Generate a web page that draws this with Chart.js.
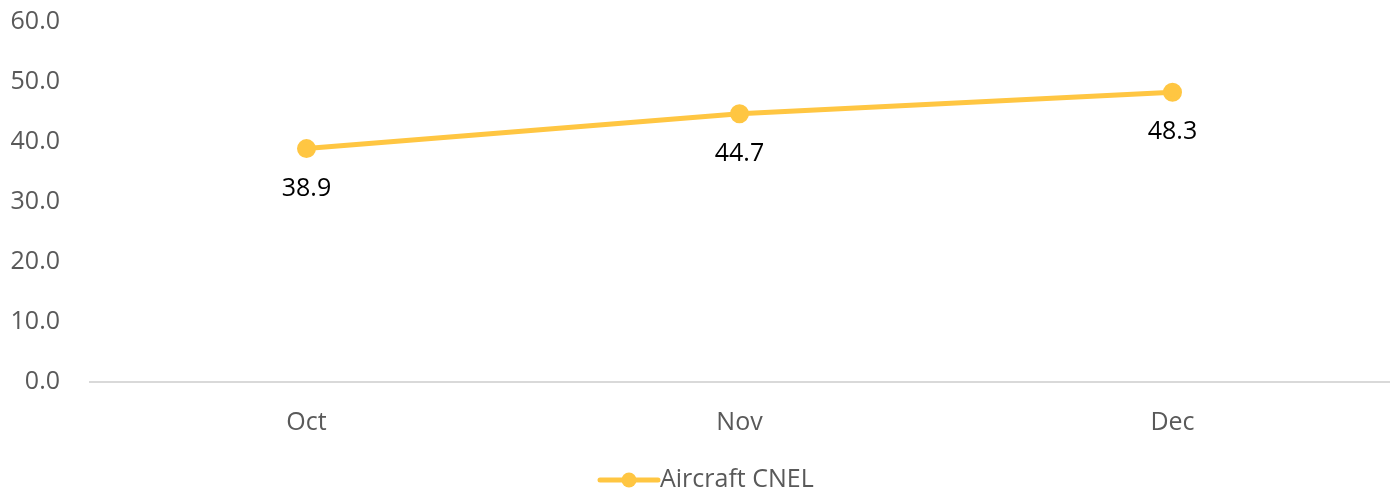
<!DOCTYPE html>
<html>
<head>
<meta charset="utf-8">
<script src="https://cdn.jsdelivr.net/npm/chart.js@4/dist/chart.umd.min.js"></script>
<style>
  html, body { margin: 0; padding: 0; background: #fff; }
  #wrap { width: 1390px; height: 493px; position: relative; }
</style>
</head>
<body>
<div id="wrap"><canvas id="myChart"></canvas></div>
<script>
const meses = ["Oct", "Nov", "Dec"];
const valoresCNEL = [38.9, 44.7, 48.3];
const nombreSerie = "Aircraft CNEL";
const yMin = 0, yMax = 60, yPaso = 10;

const colorLinea = "#FFC642";
const colorTexto = "#595959";
const fuente = "'Open Sans', 'Liberation Sans', sans-serif";
const tamFuente = 25;

// etiquetas debajo de cada punto
const etiquetasDatos = {
  id: "etiquetasDatos",
  afterDatasetsDraw(chart) {
    const ctx = chart.ctx;
    const meta = chart.getDatasetMeta(0);
    ctx.save();
    ctx.font = tamFuente + "px " + fuente;
    ctx.fillStyle = "#000";
    ctx.textAlign = "center";
    ctx.textBaseline = "middle";
    meta.data.forEach((pt, i) => {
      ctx.fillText(valoresCNEL[i].toFixed(1), pt.x, pt.y + 40);
    });
    ctx.restore();
  }
};

// leyenda abajo: linea con punto + texto
const leyenda = {
  id: "leyenda",
  afterDraw(chart) {
    const ctx = chart.ctx;
    const y = 480;
    const x0 = 600, x1 = 658;
    ctx.save();
    ctx.strokeStyle = colorLinea;
    ctx.lineWidth = 5;
    ctx.lineCap = "round";
    ctx.beginPath();
    ctx.moveTo(x0, y);
    ctx.lineTo(x1, y);
    ctx.stroke();
    ctx.fillStyle = colorLinea;
    ctx.beginPath();
    ctx.arc((x0 + x1) / 2, y, 7.5, 0, Math.PI * 2);
    ctx.fill();
    ctx.font = tamFuente + "px " + fuente;
    ctx.fillStyle = colorTexto;
    ctx.textAlign = "left";
    ctx.textBaseline = "middle";
    ctx.fillText(nombreSerie, x1 + 2, y);
    ctx.restore();
  }
};

const ctx = document.getElementById("myChart");
new Chart(ctx, {
  type: "line",
  data: {
    labels: meses,
    datasets: [{
      label: nombreSerie,
      data: valoresCNEL,
      borderColor: colorLinea,
      backgroundColor: colorLinea,
      borderWidth: 5,
      pointRadius: 7,
      pointHoverRadius: 7,
      tension: 0
    }]
  },
  options: {
    responsive: true,
    maintainAspectRatio: false,
    animation: false,
    events: [],
    layout: { autoPadding: false, padding: { top: 22, left: 0, right: 1, bottom: 0 } },
    plugins: {
      legend: { display: false },
      tooltip: { enabled: false }
    },
    scales: {
      x: {
        offset: true,
        grid: { display: false },
        border: { display: true, color: "#d9d9d9", width: 2 },
        ticks: { color: colorTexto, font: { family: fuente, size: tamFuente }, padding: 18, maxRotation: 0 },
        afterFit: (s) => { s.height = 111; s.paddingLeft = 0; s.paddingRight = 0; }
      },
      y: {
        min: yMin,
        max: yMax,
        grid: { display: false },
        border: { display: false },
        ticks: {
          stepSize: yPaso,
          color: colorTexto,
          font: { family: fuente, size: tamFuente },
          padding: 22,
          callback: (v) => v.toFixed(1)
        },
        afterFit: (s) => { s.width = 90; s.paddingTop = 0; s.paddingBottom = 0; }
      }
    }
  },
  plugins: [etiquetasDatos, leyenda]
});
</script>
</body>
</html>
